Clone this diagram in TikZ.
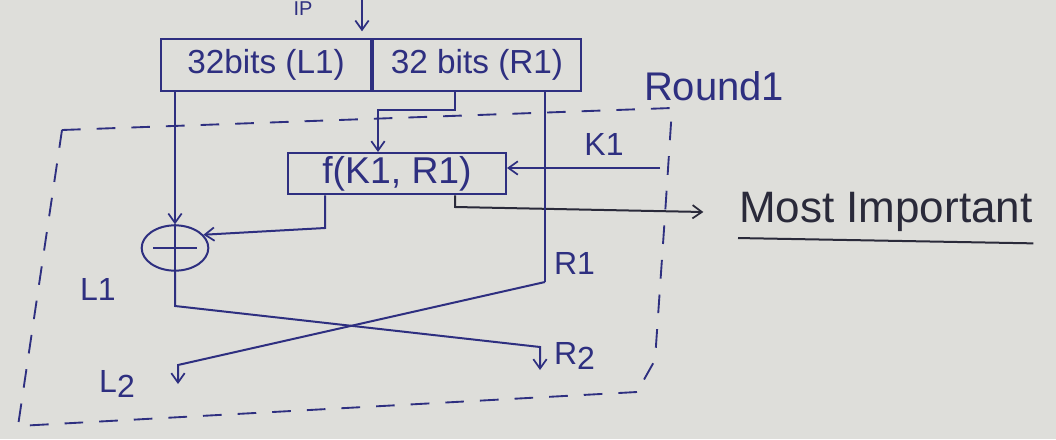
\documentclass[tikz,border=0pt]{standalone}
\usepackage{fontspec}
\setmainfont{Liberation Sans}
\usetikzlibrary{arrows.meta,shapes.geometric}
\definecolor{ink}{HTML}{2E2F80}
\definecolor{darkink}{HTML}{2A2A3A}
\definecolor{paper}{HTML}{DEDEDA}
\begin{document}
\begin{tikzpicture}[x=0.75pt,y=-0.75pt,
  line width=1.5pt, draw=ink, text=ink,
  arr/.style={-{Straight Barb[length=7pt,width=10pt,line width=1.3pt]}},
  boxst/.style={draw, rectangle, inner sep=0pt, font=\fontsize{25}{27}\selectfont},
  lbl/.style={font=\fontsize{24}{26}\selectfont, inner sep=0pt},
  frame/.style={dash pattern=on 14pt off 12pt, line width=1.4pt}
]
\useasboundingbox (0,0) rectangle (1056,439);
\fill[paper] (0,0) rectangle (1056,439);

% top register
\node[boxst, minimum width=157.5pt, minimum height=39pt, anchor=north west] (L) at (160,38) {32bits (L1)};
\node[boxst, minimum width=156pt, minimum height=39pt, anchor=north west] (R) at (L.north east) {32 bits (R1)};

% input
\node[lbl, anchor=north, font=\fontsize{15}{16}\selectfont] (ip) at (303,1) {IP};
\coordinate (inp) at (362,0);
\draw[arr] (inp) -- ([yshift=5pt]inp |- L.north);

% round function
\node[boxst, minimum width=163.5pt, minimum height=31pt, anchor=north west, font=\fontsize{28}{30}\selectfont] (f) at (287,152) {f(K1, R1)};

% xor
\node[draw, ellipse, minimum width=50pt, minimum height=34pt, inner sep=0pt] (xor) at (175,248) {};
\draw[line width=2pt] (xor.center) +(-22,0) -- +(22,0);
\draw (xor.north) -- (xor.south);

% labels
\node[lbl, font=\fontsize{30}{32}\selectfont, anchor=west] (round) at (643,86) {Round1};
\node[lbl] (k1) at (604,144) {K1};
\node[lbl, anchor=west] (r1) at (553,263) {R1};
\node[lbl] (l1) at (98,289) {L1};
\node[lbl, anchor=west] (r2) at (553,356) {R\raisebox{-0.35ex}{2}};
\node[lbl] (l2) at (117,384) {L\raisebox{-0.35ex}{2}};
\node[lbl, font=\fontsize{33}{35}\selectfont, text=darkink, anchor=west] (mi) at (738,212) {Most Important};
\draw[darkink] ([yshift=-4pt]mi.south west) -- ([yshift=-8pt]mi.south east);

% L1 to xor
\draw[arr] (L.south -| xor.north) -- (xor.north);

% R1 to f
\coordinate (rdrop) at (455,110);
\coordinate (fin) at (378,110);
\draw[arr] (R.south -| rdrop) -- (rdrop) -- (fin) -- (f.north -| fin);

% K1 into f
\coordinate (kst) at (660,168);
\draw[arr] (kst) -- (f.east |- kst);

% f to xor
\coordinate (fxor) at (325,228);
\draw[arr] (f.south -| fxor) -- (fxor) -- (xor.25);

% f to most important
\coordinate (fmi) at (455,207);
\draw[arr, draw=darkink] (f.south -| fmi) -- (fmi) -- ([xshift=-26pt]mi.west);

% R1 passes down and crosses to L2
\coordinate (rturn) at (545,282);
\coordinate (l2top) at (178,365);
\coordinate (l2tip) at (178,384);
\draw (R.south -| rturn) -- (rturn);
\draw[arr] (rturn) -- (l2top) -- (l2tip);

% xor output crosses to R2
\coordinate (lturn) at (175,306);
\coordinate (r2top) at (540,347);
\coordinate (r2tip) at (540,370);
\draw[arr] (xor.south) -- (lturn) -- (r2top) -- (r2tip);

% round frame (dashed)
\draw[frame] (62,130) -- (672,108) -- (665,215) -- (655,360) -- (637,392);
\draw[frame] (637,392) -- (18,426) -- (62,130);
\end{tikzpicture}
\end{document}
